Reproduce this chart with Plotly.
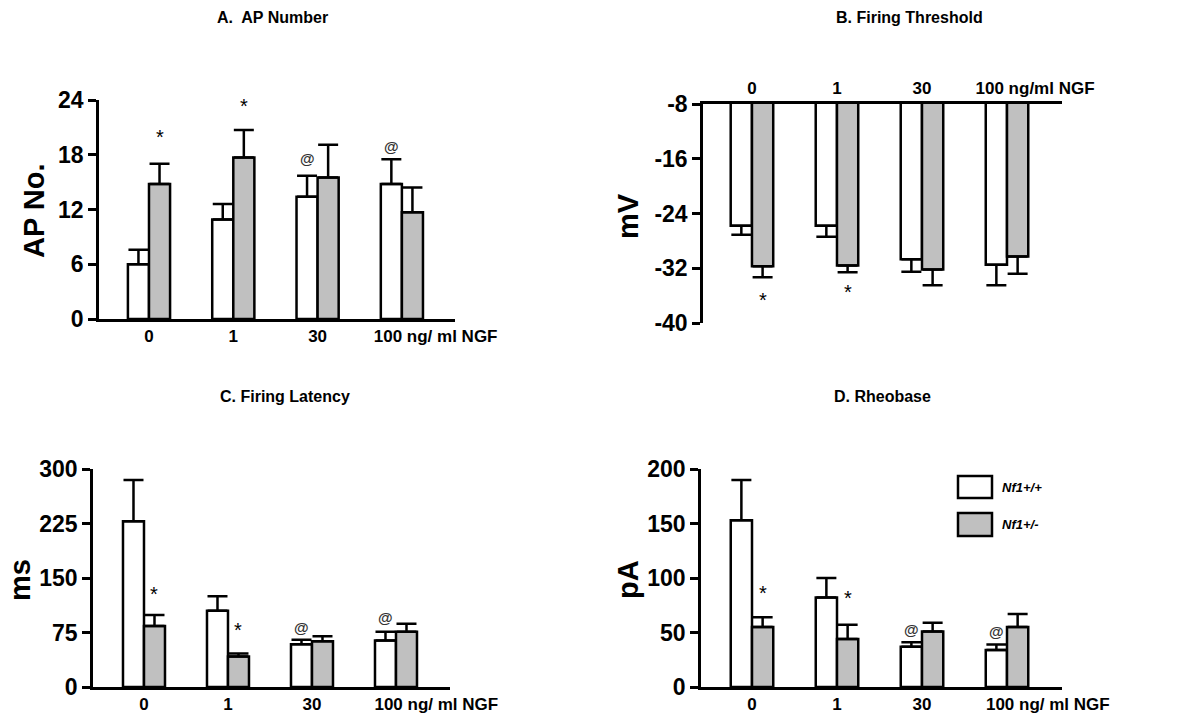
import plotly.graph_objects as go

# NGF concentrations (ng/ml) and genotypes
groups = ["0", "1", "30", "100"]
genotypes = ["Nf1+/+", "Nf1+/-"]

# A. AP number
ap_wt = [6.0, 10.9, 13.4, 14.8]
ap_wt_err = [1.6, 1.7, 2.3, 2.7]
ap_het = [14.8, 17.7, 15.5, 11.7]
ap_het_err = [2.2, 3.0, 3.6, 2.7]

# B. Firing threshold (mV)
thr_wt = [-25.8, -25.8, -30.7, -31.5]
thr_wt_err = [1.3, 1.6, 1.8, 3.0]
thr_het = [-31.7, -31.6, -32.2, -30.3]
thr_het_err = [1.6, 1.0, 2.3, 2.5]

# C. Firing latency (ms)
lat_wt = [228, 105, 59, 64]
lat_wt_err = [57, 20, 6, 12]
lat_het = [84, 42, 63, 76]
lat_het_err = [15, 4, 7, 11]

# D. Rheobase (pA)
rh_wt = [153, 82, 37, 34]
rh_wt_err = [37, 18, 4, 5]
rh_het = [55, 44, 51, 55]
rh_het_err = [9, 13, 8, 12]

# significance marks: (group index, genotype index, symbol, y level)
sig_a = [(0, 1, "*", 20.0), (1, 1, "*", 23.3), (2, 0, "@", 17.6), (3, 0, "@", 18.9)]
sig_b = [(0, 1, "*", -36.6), (1, 1, "*", -35.5)]
sig_c = [(0, 1, "*", 128), (1, 1, "*", 78), (2, 0, "@", 82), (3, 0, "@", 95)]
sig_d = [(0, 1, "*", 86), (1, 1, "*", 82), (2, 0, "@", 53), (3, 0, "@", 51)]

# y tick values per panel
ticks_a = [0, 6, 12, 18, 24]
ticks_b = [-40, -32, -24, -16, -8]
ticks_c = [0, 75, 150, 225, 300]
ticks_d = [0, 50, 100, 150, 200]

FONT = "Liberation Sans, Arial, sans-serif"
FILLS = ["white", "#c0c0c0"]
BAR_W = 0.25

fig = go.Figure()

panels = [
    dict(ax="", vals=[(ap_wt, ap_wt_err), (ap_het, ap_het_err)], sig=sig_a, down=False),
    dict(ax="2", vals=[(thr_wt, thr_wt_err), (thr_het, thr_het_err)], sig=sig_b, down=True),
    dict(ax="3", vals=[(lat_wt, lat_wt_err), (lat_het, lat_het_err)], sig=sig_c, down=False),
    dict(ax="4", vals=[(rh_wt, rh_wt_err), (rh_het, rh_het_err)], sig=sig_d, down=False),
]

xpos = list(range(len(groups)))
for p in panels:
    for gi, (vals, errs) in enumerate(p["vals"]):
        zeros = [0] * len(errs)
        err = dict(type="data", symmetric=False,
                   array=zeros if p["down"] else errs,
                   arrayminus=errs if p["down"] else zeros,
                   color="black", thickness=2.5, width=10)
        fig.add_trace(go.Bar(
            x=xpos, y=vals, width=BAR_W, offset=-BAR_W if gi == 0 else 0,
            marker=dict(color=FILLS[gi], line=dict(color="black", width=2.5)),
            error_y=err, name=genotypes[gi], showlegend=False,
            xaxis="x" + p["ax"], yaxis="y" + p["ax"]))
    for g, s, sym, yv in p["sig"]:
        fig.add_annotation(
            x=g + (BAR_W / 2 if s == 1 else -BAR_W / 2), y=yv, text=sym,
            xref="x" + p["ax"], yref="y" + p["ax"], showarrow=False,
            font=dict(family=FONT, size=20 if sym == "*" else 15,
                      color="black" if sym == "*" else "#333333",
                      weight="bold" if sym == "@" else "normal"))

W, H = 1194, 717


def xd(a, b):
    return [a / W, b / W]


def yd(top, bottom):
    return [1 - bottom / H, 1 - top / H]


axis_line = dict(showline=True, linecolor="black", linewidth=2.5, showgrid=False,
                 zeroline=False)
xtick_font = dict(family=FONT, size=17, color="black", weight="bold")
ytick_font = dict(family=FONT, size=23, color="black", weight="bold")


def ytick_axis(ticks):
    return dict(tickvals=ticks, ticktext=[str(t) for t in ticks], ticks="outside",
                ticklen=8, tickwidth=2.5, tickcolor="black", tickfont=ytick_font,
                range=[ticks[0], ticks[-1]], **axis_line)


fig.update_layout(
    width=W, height=H, margin=dict(l=0, r=0, t=0, b=0, autoexpand=False),
    paper_bgcolor="white", plot_bgcolor="white", barmode="overlay",
    font=dict(family=FONT, color="black"),
    xaxis=dict(domain=xd(99, 455), range=[-0.593, 3.63], ticks="",
               tickvals=[0, 1, 2, 3.4], ticktext=["0", "1", "30", "100 ng/ ml NGF"],
               tickfont=xtick_font, anchor="y", **axis_line),
    yaxis=dict(domain=yd(100, 319), anchor="x", **ytick_axis(ticks_a)),
    xaxis2=dict(domain=xd(703, 1062), range=[-0.576, 3.647], ticks="", side="top",
                tickvals=[0, 1, 2, 3.33], ticktext=["0", "1", "30", "100 ng/ml NGF"],
                tickfont=xtick_font, anchor="y2", **axis_line),
    yaxis2=dict(domain=yd(104, 323), anchor="x2", **ytick_axis(ticks_b)),
    xaxis3=dict(domain=xd(93, 450), range=[-0.607, 3.643], ticks="",
                tickvals=[0, 1, 2, 3.48], ticktext=["0", "1", "30", "100 ng/ ml NGF"],
                tickfont=xtick_font, anchor="y3", **axis_line),
    yaxis3=dict(domain=yd(469, 687), anchor="x3", **ytick_axis(ticks_c)),
    xaxis4=dict(domain=xd(701, 1062), range=[-0.6, 3.647], ticks="",
                tickvals=[0, 1, 2, 3.48], ticktext=["0", "1", "30", "100 ng/ ml NGF"],
                tickfont=xtick_font, anchor="y4", **axis_line),
    yaxis4=dict(domain=yd(469, 687), anchor="x4", **ytick_axis(ticks_d)),
)

# panel titles
titles = [("A.  AP Number", 272, 17), ("B. Firing Threshold", 909, 17),
          ("C. Firing Latency", 285, 397), ("D. Rheobase", 882, 397)]
for txt, px, py in titles:
    fig.add_annotation(x=px / W, y=1 - py / H, xref="paper", yref="paper", text=txt,
                       showarrow=False, xanchor="center", yanchor="middle",
                       font=dict(family=FONT, size=16, color="black", weight="bold"))

# y-axis titles
ytitles = [("AP No.", 34, 211), ("mV", 628, 216), ("ms", 20, 580), ("pA", 628, 580)]
for txt, px, py in ytitles:
    fig.add_annotation(x=px / W, y=1 - py / H, xref="paper", yref="paper", text=txt,
                       showarrow=False, textangle=-90, xanchor="center", yanchor="middle",
                       font=dict(family=FONT, size=29, color="black", weight="bold"))

# legend keys inside panel D
legend_rows = [(476, 498), (513, 536)]
for gi, (top, bottom) in enumerate(legend_rows):
    fig.add_shape(type="rect", xref="paper", yref="paper",
                  x0=958 / W, x1=992 / W, y0=1 - bottom / H, y1=1 - top / H,
                  fillcolor=FILLS[gi], line=dict(color="black", width=2.5))
    fig.add_annotation(x=1000 / W, y=1 - (top + bottom) / 2 / H, xref="paper", yref="paper",
                       text=genotypes[gi], showarrow=False, xanchor="left", yanchor="middle",
                       font=dict(family=FONT, size=13, color="black", weight="bold",
                                 style="italic"))

fig.write_html("out.html")
